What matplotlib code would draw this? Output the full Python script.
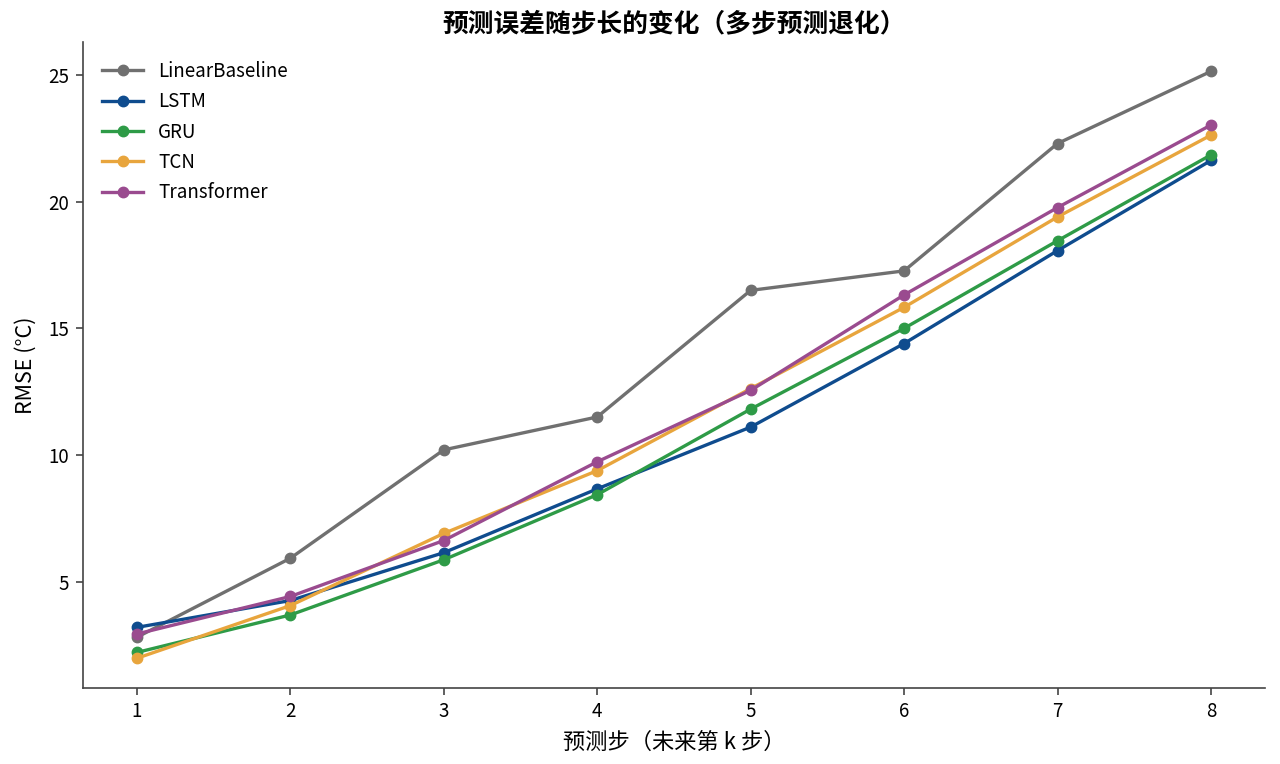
import matplotlib
matplotlib.use("Agg")
import matplotlib.pyplot as plt

plt.rcParams['font.family'] = ['Noto Sans CJK SC', 'DejaVu Sans']

steps = [1, 2, 3, 4, 5, 6, 7, 8]
models = ["LinearBaseline", "LSTM", "GRU", "TCN", "Transformer"]
linear = [2.8, 5.92, 10.2, 11.5, 16.5, 17.27, 22.3, 25.15]
lstm = [3.19, 4.25, 6.14, 8.66, 11.1, 14.4, 18.07, 21.63]
gru = [2.2, 3.68, 5.86, 8.43, 11.81, 15.0, 18.46, 21.85]
tcn = [1.97, 4.05, 6.9, 9.38, 12.62, 15.83, 19.4, 22.63]
transformer = [2.93, 4.41, 6.62, 9.73, 12.55, 16.32, 19.77, 23.03]
series = [linear, lstm, gru, tcn, transformer]
colors = ["#707070", "#0f4c8e", "#2e9b47", "#e8a53d", "#9a4b8f"]

fig, ax = plt.subplots(figsize=(12.8, 7.64), dpi=100)
for name, vals, c in zip(models, series, colors):
    ax.plot(steps, vals, marker='o', color=c, linewidth=2.4, markersize=7.5, label=name)

ax.set_title("预测误差随步长的变化（多步预测退化）", fontsize=18.5, fontweight='bold', pad=8)
ax.set_xlabel("预测步（未来第 k 步）", fontsize=16, labelpad=6)
ax.set_ylabel("RMSE (°C)", fontsize=15.5, labelpad=8)
ax.set_xticks(steps)
ax.set_yticks([5, 10, 15, 20, 25])
ax.tick_params(labelsize=13.5, length=5, width=1.2, color='#444444', pad=5)
for s in ['top', 'right']:
    ax.spines[s].set_visible(False)
for s in ['left', 'bottom']:
    ax.spines[s].set_color('#444444')
    ax.spines[s].set_linewidth(1.2)
ax.legend(frameon=False, fontsize=13.5, loc='upper left', handlelength=2.2,
          labelspacing=0.5, borderaxespad=0.6)
fig.subplots_adjust(left=0.065, right=0.988, top=0.945, bottom=0.1)
fig.savefig("out.png", dpi=100)
